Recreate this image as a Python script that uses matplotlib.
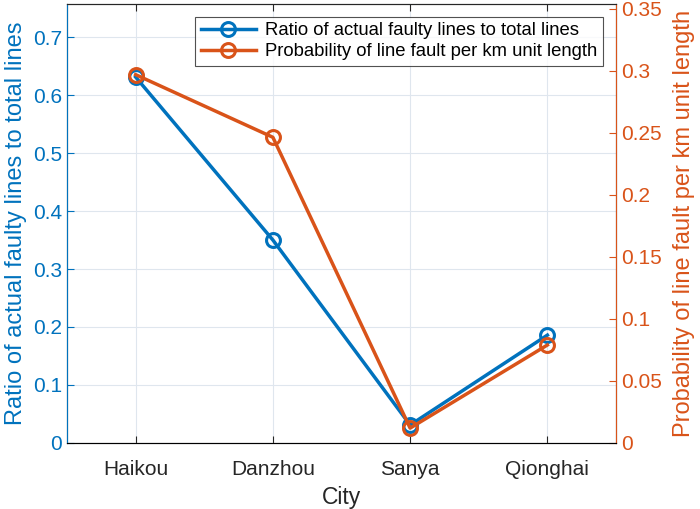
import matplotlib
matplotlib.use('Agg')
import matplotlib.pyplot as plt

cities = ['Haikou', 'Danzhou', 'Sanya', 'Qionghai']
ratio_faulty = [0.631, 0.350, 0.031, 0.186]
prob_per_km = [0.297, 0.2465, 0.012, 0.079]

blue = '#0072BD'
orange = '#D95319'

plt.rcParams['font.family'] = ['Arial', 'Liberation Sans', 'DejaVu Sans']

fig = plt.figure(figsize=(7, 5.09), dpi=100)
ax = fig.add_axes([0.0957, 0.1297, 0.7843, 0.8625])
ax2 = ax.twinx()

x = list(range(1, len(cities) + 1))
l1, = ax.plot(x, ratio_faulty, '-o', color=blue, lw=2.5, ms=10, mfc='none', mew=2.2,
              label='Ratio of actual faulty lines to total lines')
l2, = ax2.plot(x, prob_per_km, '-o', color=orange, lw=2.5, ms=10, mfc='none', mew=2.2,
               label='Probability of line fault per km unit length')

ax.set_xlim(0.5, 4.5)
ax.set_ylim(0, 0.757)
ax2.set_ylim(0, 0.354)
ax.set_xticks(x)
ax.set_xticklabels(cities)
ax.set_yticks([0, 0.1, 0.2, 0.3, 0.4, 0.5, 0.6, 0.7])
ax.set_yticklabels(['0', '0.1', '0.2', '0.3', '0.4', '0.5', '0.6', '0.7'])
ax2.set_yticks([0, 0.05, 0.1, 0.15, 0.2, 0.25, 0.3, 0.35])
ax2.set_yticklabels(['0', '0.05', '0.1', '0.15', '0.2', '0.25', '0.3', '0.35'])

ax.grid(True, color='#dfe6ee', lw=0.8)
ax.set_axisbelow(True)
ax.tick_params(axis='x', colors='#262626', labelsize=15, direction='in', length=5, pad=12)
ax.tick_params(axis='y', colors=blue, labelsize=15, direction='in', length=5)
ax2.tick_params(axis='y', colors=orange, labelsize=15, direction='in', length=5)
ax.tick_params(axis='x', top=True)

ax.spines['top'].set_color('#262626')
ax2.spines['top'].set_color('#262626')
ax.spines['bottom'].set_color('#262626')
ax2.spines['left'].set_color(blue)
ax2.spines['right'].set_color(orange)
for sp in list(ax.spines.values()) + list(ax2.spines.values()):
    sp.set_linewidth(0.8)

ax.set_xlabel('City', fontsize=16.5, color='#262626', labelpad=5)
ax.set_ylabel('Ratio of actual faulty lines to total lines', fontsize=17, color=blue, labelpad=4)
ax2.set_ylabel('Probability of line fault per km unit length', fontsize=17, color=orange, labelpad=8)

leg = ax2.legend(handles=[l1, l2], loc='upper right', fontsize=13.3, frameon=True,
                 fancybox=False, edgecolor='#262626', borderaxespad=0.7,
                 handlelength=3.0, borderpad=0.3, labelspacing=0.2, handletextpad=0.5)
leg.get_frame().set_linewidth(0.8)

fig.savefig('out.png', dpi=100)
